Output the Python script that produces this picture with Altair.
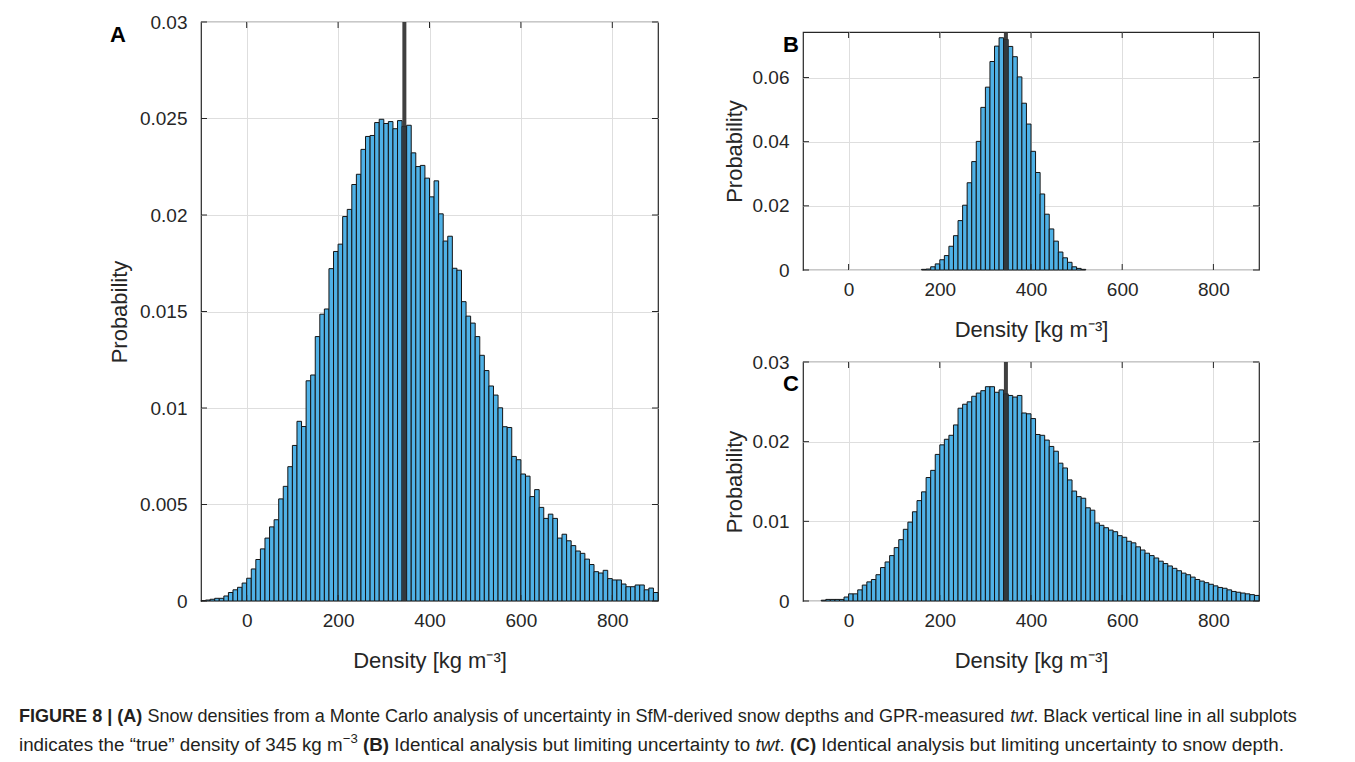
import altair as alt
import pandas as pd

BIN_WIDTH = 10
X_TICKS = [0, 200, 400, 600, 800]
TRUE_DENSITY = [345]

# Panel A: bins start at -100
A_START = -100
A_PROB = [
    0.00002, 0.00005, 0.00009, 0.00014, 0.00014, 0.00026, 0.00044, 0.00058, 0.00071, 0.00093,
    0.00118, 0.00166, 0.00215, 0.00270, 0.00326, 0.00384, 0.00421, 0.00529, 0.00594, 0.00696,
    0.00806, 0.00931, 0.00904, 0.01141, 0.01171, 0.01370, 0.01486, 0.01513, 0.01722, 0.01811,
    0.01849, 0.01992, 0.02029, 0.02158, 0.02211, 0.02340, 0.02407, 0.02412, 0.02479, 0.02496,
    0.02474, 0.02484, 0.02447, 0.02489, 0.02459, 0.02465, 0.02322, 0.02251, 0.02257, 0.02191,
    0.02094, 0.02177, 0.02006, 0.01865, 0.01890, 0.01724, 0.01714, 0.01551, 0.01476, 0.01440,
    0.01370, 0.01273, 0.01194, 0.01114, 0.01067, 0.01001, 0.00903, 0.00899, 0.00749, 0.00732,
    0.00658, 0.00647, 0.00541, 0.00577, 0.00485, 0.00428, 0.00450, 0.00428, 0.00326, 0.00346,
    0.00312, 0.00287, 0.00259, 0.00247, 0.00217, 0.00189, 0.00152, 0.00145, 0.00159, 0.00116,
    0.00109, 0.00109, 0.00088, 0.00074, 0.00074, 0.00083, 0.00083, 0.00058, 0.00067, 0.00044,
]
A_YTICKS = [0, 0.005, 0.01, 0.015, 0.02, 0.025, 0.03]

# Panel B: bins start at 160
B_START = 160
B_PROB = [
    0.0002, 0.0003, 0.0010, 0.0019, 0.0032, 0.0045, 0.0074, 0.0107, 0.0154, 0.0202,
    0.0272, 0.0338, 0.0401, 0.0507, 0.0570, 0.0650, 0.0698, 0.0724, 0.0719, 0.0697,
    0.0665, 0.0602, 0.0520, 0.0455, 0.0370, 0.0304, 0.0237, 0.0174, 0.0128, 0.0090,
    0.0056, 0.0038, 0.0024, 0.0010, 0.0005, 0.0002,
]
B_YTICKS = [0, 0.02, 0.04, 0.06]

# Panel C: bins start at -60
C_START = -60
C_PROB = [
    0.0001, 0.0002, 0.0002, 0.0002, 0.0002, 0.0005, 0.0009, 0.0009, 0.0014, 0.0020,
    0.0024, 0.0027, 0.0033, 0.0042, 0.0049, 0.0057, 0.0067, 0.0077, 0.0090, 0.0099,
    0.0112, 0.0126, 0.0137, 0.0155, 0.0164, 0.0184, 0.0196, 0.0203, 0.0208, 0.0221,
    0.0242, 0.0247, 0.0250, 0.0257, 0.0261, 0.0264, 0.0269, 0.0269, 0.0262, 0.0265,
    0.0260, 0.0258, 0.0256, 0.0258, 0.0236, 0.0235, 0.0229, 0.0209, 0.0208, 0.0202,
    0.0194, 0.0188, 0.0173, 0.0167, 0.0152, 0.0138, 0.0131, 0.0129, 0.0117, 0.0114,
    0.0098, 0.0095, 0.0092, 0.0089, 0.0087, 0.0082, 0.0080, 0.0075, 0.0073, 0.0068,
    0.0064, 0.0060, 0.0057, 0.0054, 0.0050, 0.0047, 0.0044, 0.0041, 0.0038, 0.0035,
    0.0033, 0.0030, 0.0027, 0.0025, 0.0023, 0.0021, 0.0019, 0.0017, 0.0016, 0.0014,
    0.0012, 0.0011, 0.0010, 0.0009, 0.0008, 0.0007,
]
C_YTICKS = [0, 0.01, 0.02, 0.03]

# Caption text
CAPTION_LINE1 = [
    ("FIGURE 8 | (A)", "bold", "normal"),
    ("Snow densities from a Monte Carlo analysis of uncertainty in SfM-derived snow depths and GPR-measured", "normal", "normal"),
    ("twt", "normal", "italic"),
    (". Black vertical line in all subplots", "normal", "normal"),
]
CAPTION_LINE2 = [
    ("indicates the \u201ctrue\u201d density of 345 kg m", "normal", "normal"),
    ("\u22123", "sup", "normal"),
    ("(B)", "bold", "normal"),
    ("Identical analysis but limiting uncertainty to", "normal", "normal"),
    ("twt", "normal", "italic"),
    (".", "normal", "normal"),
    ("(C)", "bold", "normal"),
    ("Identical analysis but limiting uncertainty to snow depth.", "normal", "normal"),
]
# whether a space follows each segment
GAPS1 = [True, True, False, False]
GAPS2 = [False, True, True, True, False, True, True, False]

FONT = "Liberation Sans"
INK = "#262626"
BAR_FILL = "#4FB1E6"
X_TITLE = "Density [kg m\u207b\u00b3]"

# Arial / Liberation Sans advance widths (per 1000 em)
_W = {" ": 278, "(": 333, ")": 333, "|": 260, ".": 278, ",": 278, "-": 333, "\u2212": 584,
      "\u201c": 333, "\u201d": 333}
for ch in "0123456789":
    _W[ch] = 556
_W.update(dict(zip("abcdefghijklmnopqrstuvwxyz",
                   [556, 556, 500, 556, 556, 278, 556, 556, 222, 222, 500, 222, 833, 556, 556,
                    556, 556, 333, 500, 278, 556, 500, 722, 500, 500, 500])))
_W.update(dict(zip("ABCDEFGHIJKLMNOPQRSTUVWXYZ",
                   [667, 667, 722, 722, 667, 611, 778, 722, 278, 500, 667, 556, 833, 722, 778,
                    667, 778, 722, 667, 611, 722, 667, 944, 667, 667, 611])))
_WB = dict(_W)
_WB.update(dict(zip("ABCDEFGHIJKLMNOPQRSTUVWXYZ",
                    [722, 722, 722, 722, 667, 611, 778, 722, 278, 556, 722, 611, 833, 722, 778,
                     667, 778, 722, 667, 611, 722, 667, 944, 667, 667, 611])))
_WB.update({"|": 280, "(": 333, ")": 333})


def text_em(s, bold=False):
    t = _WB if bold else _W
    return sum(t.get(c, 556) for c in s) / 1000.0


def hist_frame(start, probs):
    lo = [start + i * BIN_WIDTH for i in range(len(probs))]
    hi = [v + BIN_WIDTH for v in lo]
    return pd.DataFrame({"lo": lo, "hi": hi, "p": probs})


def panel(start, probs, yticks, ymax, W, H, letter, lx, ly, ytitle_pad, extra=()):
    xs = alt.Scale(domain=[-100, 900], nice=False, zero=False)
    ys = alt.Scale(domain=[0, ymax], nice=False, zero=True)
    x_axis = alt.Axis(values=X_TICKS, title=X_TITLE, labelPadding=10, titlePadding=20,
                      labelFontSize=19, titleFontSize=22)
    y_axis = alt.Axis(values=yticks, title="Probability", labelExpr="format(datum.value, '~g')",
                      labelPadding=14, titlePadding=ytitle_pad, labelFontSize=19, titleFontSize=22)

    def X(f):
        return alt.X(f, scale=xs, axis=x_axis)

    def Y(f):
        return alt.Y(f, scale=ys, axis=y_axis)

    df = hist_frame(start, probs)
    bars = alt.Chart(df).mark_bar(fill=BAR_FILL, stroke="#141414", strokeWidth=1).encode(
        x=X("lo:Q"), x2="hi:Q", y=Y("p:Q"), y2=alt.datum(0))
    line = alt.Chart(pd.DataFrame({"d": TRUE_DENSITY})).mark_rule(
        color="#303030", strokeWidth=4, opacity=0.92).encode(x=X("d:Q"))
    xt = alt.Chart(pd.DataFrame({"t": X_TICKS}))
    yt = alt.Chart(pd.DataFrame({"t": yticks}))
    tick_style = dict(color=INK, strokeWidth=1)
    xb = xt.mark_rule(**tick_style).encode(x=X("t:Q"), y=alt.value(H), y2=alt.value(H - 6))
    xtop = xt.mark_rule(**tick_style).encode(x=X("t:Q"), y=alt.value(0), y2=alt.value(6))
    yl = yt.mark_rule(**tick_style).encode(y=Y("t:Q"), x=alt.value(0), x2=alt.value(6))
    yr = yt.mark_rule(**tick_style).encode(y=Y("t:Q"), x=alt.value(W - 6), x2=alt.value(W))
    lab = alt.Chart(pd.DataFrame({"s": [letter]})).mark_text(
        font=FONT, fontSize=22, fontWeight="bold", color="#000000",
        align="center", baseline="middle").encode(
        text="s:N", x=alt.value(lx), y=alt.value(ly))
    return alt.layer(bars, line, xb, xtop, yl, yr, lab, *extra).properties(
        width=W, height=H,
        view=alt.ViewBackground(stroke=INK, strokeWidth=1.2))


# caption layers, positioned relative to panel A's plot origin (200, 22)
CAP_LEFT = 18 - 200
CAP_Y1 = 717 - 22
CAP_Y2 = 745 - 22


def line_em(segs, gaps):
    total = 0.0
    for (t, w, s), g in zip(segs, gaps):
        total += text_em(t, w == "bold") * (0.7 if w == "sup" else 1.0)
        total += 0.278 if g else 0.0
    return total


CAP_SIZE1 = round(1278 / line_em(CAPTION_LINE1, GAPS1), 2)
CAP_SIZE2 = round(1265 / line_em(CAPTION_LINE2, GAPS2), 2)


def caption_layers(segs, gaps, y, base):
    out = []
    pos = CAP_LEFT
    for (txt, wt, st), gap in zip(segs, gaps):
        size = base
        dy = 0
        weight = wt
        if wt == "sup":
            size = base * 0.7
            dy = -6
            weight = "normal"
        out.append(
            alt.Chart(pd.DataFrame({"s": [txt]})).mark_text(
                font=FONT, fontSize=size, fontWeight=weight, fontStyle=st, color="#231f20",
                align="left", baseline="middle", dy=dy).encode(
                text="s:N", x=alt.value(pos), y=alt.value(y)))
        pos += text_em(txt, weight == "bold") * size + (0.278 * base if gap else 0)
    return out


caps = (caption_layers(CAPTION_LINE1, GAPS1, CAP_Y1, CAP_SIZE1)
        + caption_layers(CAPTION_LINE2, GAPS2, CAP_Y2, CAP_SIZE2))

A = panel(A_START, A_PROB, A_YTICKS, 0.03, 457, 579, "A", -83, 13, 8, extra=caps)
B = panel(B_START, B_PROB, B_YTICKS, 0.0742, 456, 238, "B", -12, 13, 6)
C = panel(C_START, C_PROB, C_YTICKS, 0.03, 456, 239, "C", -12, 22, 6)

spacer = alt.Chart(pd.DataFrame({"z": [0]})).mark_point(opacity=0).properties(
    width=456, height=1, view=alt.ViewBackground(stroke="transparent"))

right = alt.vconcat(spacer, alt.vconcat(B, C, spacing=92, bounds="flush"),
                    spacing=9, bounds="flush")

chart = alt.hconcat(A, right, spacing=145, bounds="flush").properties(
    padding={"left": 10, "top": 4, "right": 5, "bottom": 5}
).configure(font=FONT).configure_axis(
    domain=False, ticks=False, grid=True, gridColor="#dedede", gridWidth=1,
    labelFont=FONT, titleFont=FONT, labelColor=INK, titleColor=INK,
    titleFontWeight="normal",
).configure_view(stroke="transparent")

chart.save("out.html", embed_options={"renderer": "svg", "actions": False})
